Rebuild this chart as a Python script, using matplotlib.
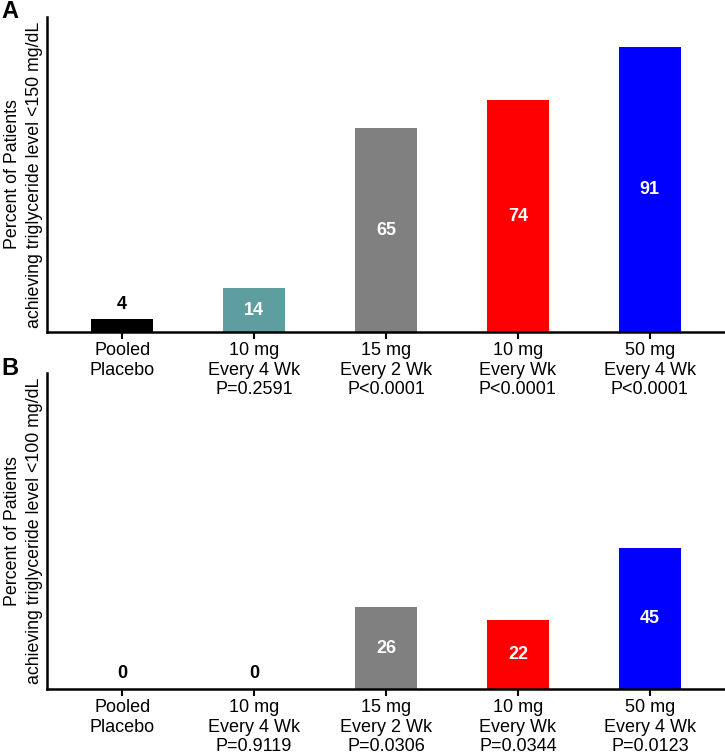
import matplotlib
matplotlib.use("Agg")
import matplotlib.pyplot as plt

plt.rcParams['font.family'] = ['Liberation Sans', 'DejaVu Sans']

groups = ["Pooled\nPlacebo", "10 mg\nEvery 4 Wk", "15 mg\nEvery 2 Wk", "10 mg\nEvery Wk", "50 mg\nEvery 4 Wk"]
colors = ["#000000", "#5F9EA0", "#808080", "#FF0000", "#0000FF"]

values_a = [4, 14, 65, 74, 91]
pvals_a = ["", "P=0.2591", "P<0.0001", "P<0.0001", "P<0.0001"]
ylabel_a = "Percent of Patients\nachieving triglyceride level <150 mg/dL"

values_b = [0, 0, 26, 22, 45]
pvals_b = ["", "P=0.9119", "P=0.0306", "P=0.0344", "P=0.0123"]
ylabel_b = "Percent of Patients\nachieving triglyceride level <100 mg/dL"

fig = plt.figure(figsize=(7.25, 7.54), dpi=100)
W, H = 725, 754


def panel(rect_px, values, pvals, ylabel, letter, letter_xy, z):
    l, t, r, b = rect_px
    ax = fig.add_axes([l / W, 1 - b / H, (r - l) / W, (b - t) / H])
    ax.set_zorder(z)
    ax.patch.set_alpha(0)
    x = list(range(len(values)))
    bars = ax.bar(x, values, width=0.47, color=colors)
    for xi, v, bar in zip(x, values, bars):
        if v >= 10:
            ax.text(xi, v / 2, str(v), ha='center', va='center', color='white',
                    fontsize=13, fontweight='bold')
        else:
            ax.annotate(str(v), (xi, v), xytext=(0, 11), textcoords='offset points',
                        ha='center', va='center', color='black', fontsize=13,
                        fontweight='bold')
    labels = [g + ("\n" + p if p else "") for g, p in zip(groups, pvals)]
    ax.set_xticks(x)
    ax.set_xticklabels(labels, fontsize=13, va='top', linespacing=1.22)
    ax.tick_params(axis='x', direction='out', length=5, width=1.5, pad=2)
    ax.set_yticks([])
    ax.set_xlim(-0.57, 4.57)
    ax.set_ylim(0, 100.6)
    for s in ['top', 'right']:
        ax.spines[s].set_visible(False)
    for s in ['left', 'bottom']:
        ax.spines[s].set_linewidth(1.8)
    ax.set_ylabel(ylabel, fontsize=12.8, labelpad=3, linespacing=1.38)
    fig.text(letter_xy[0] / W, 1 - letter_xy[1] / H, letter, fontsize=17,
             fontweight='bold', ha='left', va='top')
    return ax


panel((47, 17, 725, 332), values_a, pvals_a, ylabel_a, "A", (1, 0), 2)
panel((47, 373, 725, 689), values_b, pvals_b, ylabel_b, "B", (1, 357), 1)

fig.savefig("out.png", dpi=100)
